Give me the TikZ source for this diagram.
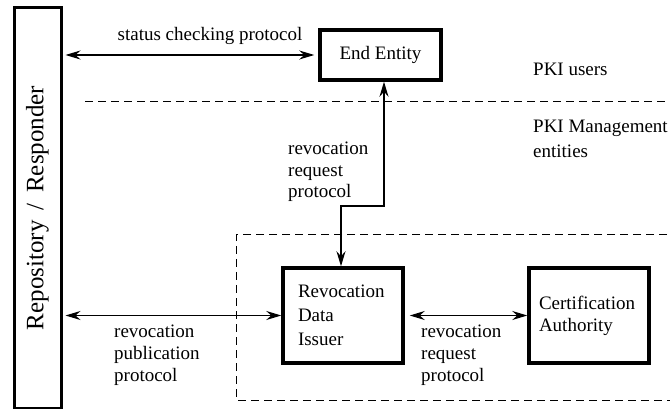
\documentclass[tikz,border=0pt]{standalone}
\usepackage{fontspec}
\setmainfont{Liberation Serif}
\usetikzlibrary{arrows.meta}

\tikzset{
  entity/.style={draw, line width=3.5pt, inner sep=0pt},
  label/.style={inner sep=0pt, align=left, font=\fontsize{19}{22}\selectfont},
  link/.style={line width=1.2pt, {Stealth[length=15pt,width=9pt,inset=5pt]}-{Stealth[length=15pt,width=9pt,inset=5pt]}},
  border/.style={line width=1pt, dash pattern=on 8pt off 5pt},
}

\begin{document}
\begin{tikzpicture}[x=1pt, y=-1pt]
  \useasboundingbox (0,0) rectangle (670,409);
  \clip (0,0) rectangle (670,409);

  % repository / responder column
  \node[draw, line width=3pt, minimum width=47pt, minimum height=400pt, inner sep=0pt,
        font=\fontsize{25}{30}\selectfont] (repo) at (37.5,208)
        {\rotatebox{90}{Repository \,/\, Responder}};

  % entities
  \node[entity, minimum width=121pt, minimum height=50pt,
        font=\fontsize{19}{22}\selectfont] (ee) at (380.5,55) {End Entity};
  \node[entity, minimum height=95pt, text width=90pt, inner xsep=15pt, align=left,
        font=\fontsize{19}{24}\selectfont] (rdi) at (343,315.5) {Revocation\\Data\\Issuer};
  \node[entity, minimum height=95pt, text width=100pt, inner xsep=10pt, align=left,
        font=\fontsize{19}{22}\selectfont] (ca) at (589,315.5) {Certification\\Authority};

  % domain separators
  \coordinate (sepL) at (85,102);
  \coordinate (sepR) at (675,102);
  \draw[border] (sepL) -- (sepR);
  \coordinate (mgTR) at (680,235);
  \coordinate (mgTL) at (236,235);
  \coordinate (mgBL) at (236,400);
  \coordinate (mgBR) at (680,400);
  \draw[border] (mgTR) -- (mgTL) -- (mgBL) -- (mgBR);

  % side labels
  \node[label, anchor=west] (users) at (533,69) {PKI users};
  \node[label, anchor=west, font=\fontsize{19}{25}\selectfont] (mgmt) at (533,139) {PKI Management\\entities};

  % protocols
  \draw[link, shorten <=3pt, shorten >=4pt] (repo.east |- ee.west) -- (ee.west);
  \node[label] (status) at (210,36) {status checking protocol};

  \coordinate (bendA) at (384,206);
  \coordinate (bendB) at (341,206);
  \draw[link, line join=miter] (ee.south -| bendA) -- (bendA) -- (bendB) -- (rdi.north -| bendB);
  \node[label, anchor=west, font=\fontsize{19}{21.5}\selectfont] (reqtop) at (288,172) {revocation\\request\\protocol};

  \draw[link, shorten <=3pt] (repo.east |- rdi.west) -- (rdi.west);
  \node[label, anchor=west] (pub) at (114,355) {revocation\\publication\\protocol};

  \draw[link, shorten <=5pt] (rdi.east) -- (ca.west);
  \node[label, anchor=west] (reqbot) at (421,355) {revocation\\request\\protocol};
\end{tikzpicture}
\end{document}
